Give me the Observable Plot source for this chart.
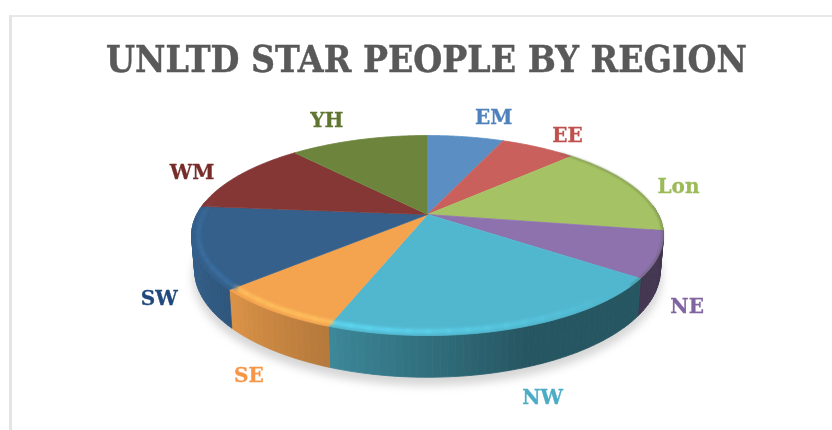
<!DOCTYPE html>
<html>
<head>
<meta charset="utf-8">
<script src="https://cdn.jsdelivr.net/npm/d3@7"></script>
<script src="https://cdn.jsdelivr.net/npm/@observablehq/plot@0.6"></script>
<style>
  html, body { margin: 0; padding: 0; background: #fff; width: 832px; height: 430px; overflow: hidden; }
  #frame { position: absolute; left: 9px; top: 15px; width: 823px; height: 415px;
           border-left: 3px solid #e4e4e4; border-top: 2px solid #e8e8e8; box-sizing: border-box; }
  #title { position: absolute; left: 0; top: 36px; width: 853px; text-align: center; margin: 0;
           font: bold 37px "DejaVu Serif Condensed", "DejaVu Serif", serif; color: #595959; line-height: 46px;
           -webkit-text-stroke: 0.4px #595959; filter: blur(0.35px); }
  #chart { position: absolute; left: 0; top: 90px; }
  #chart svg { display: block; background: transparent; }
</style>
</head>
<body>
<div id="frame"></div>
<h1 id="title">UNLTD STAR PEOPLE BY REGION</h1>
<div id="chart"></div>
<script>
const regions = ["EM", "EE", "Lon", "NE", "NW", "SE", "SW", "WM", "YH"];
const shares = [6.4, 6.3, 14.9, 7.4, 20.6, 7.6, 13.2, 12.0, 11.6];
const topColors = ["#5b8fc4", "#c9605c", "#a5c265", "#8e72ad", "#51b7cf", "#f4a34f", "#34608b", "#843735", "#6c843c"];
const labelColors = ["#4f81bd", "#c0504d", "#9bbb59", "#8064a2", "#4bacc6", "#f79646", "#1f497d", "#772c2a", "#5f7530"];
const labelDx = [28, 29, 44, 28, 31, -23, -34, -47, -32];
const labelDy = [-19, -12, -1, 52, 69, 65, 51, -3, -19];

const persp = 0.21;
const depth = 33 / 95.6;
const rad = d => d * Math.PI / 180;
const rimX = (a, r = 1) => r * Math.sin(a) / (1 + persp * r * Math.cos(a));
const rimY = (a, r = 1) => r * Math.cos(a) / (1 + persp * r * Math.cos(a));
const drop = a => depth / (1 + persp * Math.cos(a));

const total = d3.sum(shares);
let acc = 0;
const slices = regions.map((region, i) => {
  const a0 = acc / total * 2 * Math.PI;
  acc += shares[i];
  const a1 = acc / total * 2 * Math.PI;
  return {region, i, a0, a1, mid: (a0 + a1) / 2};
});

const steps = (a0, a1, n) => d3.range(n + 1).map(k => a0 + (a1 - a0) * k / n);

const topPts = slices.flatMap(s => [
  {id: s.region, x: 0, y: 0, c: topColors[s.i]},
  ...steps(s.a0, s.a1, 60).map(a => ({id: s.region, x: rimX(a), y: rimY(a), c: topColors[s.i]}))
]);

const shadeAt = d3.scaleLinear().domain([rad(99), rad(160), rad(200), rad(227), rad(275)]).range([0.47, 0.47, 0.74, 0.9, 1.05]).clamp(true);
const dim = (hex, f) => { const c = d3.rgb(hex); return d3.rgb(Math.min(255, c.r * f), Math.min(255, c.g * f), Math.min(255, c.b * f)).formatHex(); };

const wallPts = [];
slices.forEach(s => {
  const lo = Math.max(s.a0, rad(85)), hi = Math.min(s.a1, rad(278));
  if (hi <= lo) return;
  const n = Math.max(1, Math.round((hi - lo) / rad(1.5)));
  const edges = steps(lo, hi, n);
  for (let k = 0; k < n; k++) {
    const a = edges[k], b = edges[k + 1], c = dim(topColors[s.i], shadeAt((a + b) / 2)), id = s.region + k;
    [[a, 0], [b, 0], [b, 1], [a, 1], [a, 0]].forEach(([t, low]) => wallPts.push({
      id, c,
      x: rimX(t) * (low ? 0.987 : 1),
      y: rimY(t) - (low ? drop(t) : 0)
    }));
  }
});

const shadowPts = [
  ...steps(rad(88), rad(272), 80).map(a => ({x: rimX(a) * 0.995, y: rimY(a) - drop(a) * 1.2})),
  ...steps(rad(272), rad(88), 40).map(a => ({x: rimX(a) * 0.9, y: rimY(a) * 0.5}))
];

const bevelFade = d3.scaleLinear().domain([rad(135), rad(180), rad(200), rad(227), rad(270), rad(285)]).range([0, 0.55, 0.8, 0.7, 0.35, 0]).clamp(true);
const bevelPts = slices.flatMap(s => {
  const lo = Math.max(s.a0, rad(135)), hi = Math.min(s.a1, rad(285));
  if (hi <= lo) return [];
  const edges = steps(lo, hi, Math.max(1, Math.round((hi - lo) / rad(4))));
  return d3.pairs(edges).flatMap(([a, b], k) => [a, b].map(t => ({
    id: s.region + k, x: rimX(t, 0.972), y: rimY(t, 0.972),
    c: dim(topColors[s.i], 1.2), o: bevelFade((a + b) / 2)
  })));
});
const edgePts = steps(rad(42), rad(130), 50).map(a => ({x: rimX(a, 0.997), y: rimY(a, 0.997)}));

const lineOf = (rows, extra) => Plot.line(rows, {x: "x", y: "y", z: "id", fill: "c", stroke: "c", strokeWidth: 0.8, ...extra});

const chart = Plot.plot({
  width: 832,
  height: 340,
  margin: 0,
  x: {domain: [-1, 1], range: [427 - 230.7, 427 + 230.7], axis: null},
  y: {domain: [-1, 1], range: [124 + 95.6, 124 - 95.6], axis: null},
  color: {type: "identity"},
  opacity: {type: "identity"},
  style: {background: "transparent", overflow: "visible"},
  marks: [
    Plot.line(shadowPts, {x: "x", y: "y", fill: "#b4b4b4", stroke: "none", fillOpacity: 0.55, imageFilter: "blur(4px)"}),
    lineOf(wallPts, {}),
    lineOf(topPts, {}),
    Plot.line(bevelPts, {x: "x", y: "y", z: "id", stroke: "c", fill: "none", strokeOpacity: "o", strokeWidth: 4.5, imageFilter: "blur(1.4px)"}),
    Plot.line(edgePts, {x: "x", y: "y", stroke: "#3d4a2a", fill: "none", strokeWidth: 1.2, strokeOpacity: 0.5, imageFilter: "blur(0.8px)"}),
    ...slices.map(s => Plot.text([s], {
      x: d => rimX(d.mid), y: d => rimY(d.mid), text: "region",
      dx: labelDx[s.i], dy: labelDy[s.i],
      fill: labelColors[s.i], stroke: labelColors[s.i], strokeWidth: 0.3, fontSize: 20, fontWeight: "bold",
      fontFamily: "'DejaVu Serif', serif", imageFilter: "blur(0.4px)"
    }))
  ]
});
document.getElementById("chart").appendChild(chart);
</script>
</body>
</html>
